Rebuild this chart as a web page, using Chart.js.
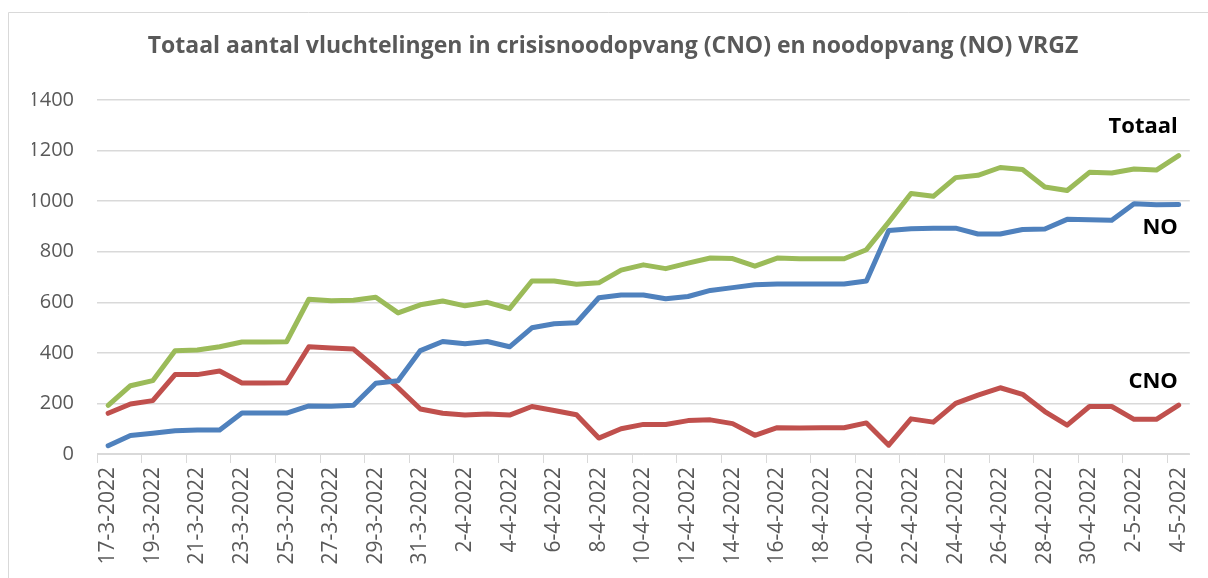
<!DOCTYPE html>
<html>
<head>
<meta charset="utf-8">
<script src="https://cdn.jsdelivr.net/npm/chart.js@4/dist/chart.umd.min.js"></script>
<style>
  html, body { margin: 0; padding: 0; background: #fff; }
  #wrap { width: 1208px; height: 578px; }
</style>
</head>
<body>
<div id="wrap"><canvas id="chart" width="1208" height="578"></canvas></div>
<script>
const dates = [
    '17-3-2022', '18-3-2022', '19-3-2022', '20-3-2022', '21-3-2022', '22-3-2022', '23-3-2022',
    '24-3-2022', '25-3-2022', '26-3-2022', '27-3-2022', '28-3-2022', '29-3-2022', '30-3-2022',
    '31-3-2022', '1-4-2022', '2-4-2022', '3-4-2022', '4-4-2022', '5-4-2022', '6-4-2022',
    '7-4-2022', '8-4-2022', '9-4-2022', '10-4-2022', '11-4-2022', '12-4-2022', '13-4-2022',
    '14-4-2022', '15-4-2022', '16-4-2022', '17-4-2022', '18-4-2022', '19-4-2022', '20-4-2022',
    '21-4-2022', '22-4-2022', '23-4-2022', '24-4-2022', '25-4-2022', '26-4-2022', '27-4-2022',
    '28-4-2022', '29-4-2022', '30-4-2022', '1-5-2022', '2-5-2022', '3-5-2022', '4-5-2022'
];

const noValues = [
    33, 73, 82, 92, 95, 95, 162, 162, 162, 190, 189, 193, 280, 290,
    409, 445, 436, 445, 424, 499, 515, 519, 618, 629, 629, 614, 623, 647,
    658, 669, 672, 672, 672, 672, 684, 884, 891, 893, 893, 870, 870, 888,
    890, 928, 926, 924, 990, 986, 987
];

const cnoValues = [
    161, 198, 211, 314, 314, 328, 281, 281, 282, 424, 419, 415, 340, 262,
    178, 161, 154, 158, 154, 188, 172, 155, 63, 100, 117, 117, 132, 135,
    120, 74, 104, 103, 104, 104, 123, 35, 139, 126, 200, 233, 262, 236,
    168, 114, 188, 188, 137, 137, 193
];

const totaalValues = [
    192, 270, 290, 408, 411, 424, 443, 443, 444, 612, 606, 608, 620, 558,
    590, 605, 586, 600, 575, 684, 684, 671, 677, 727, 748, 733, 755, 775,
    773, 743, 775, 772, 772, 772, 808, 917, 1030, 1019, 1093, 1102, 1133, 1125,
    1056, 1042, 1114, 1111, 1127, 1123, 1180
];

const yTicks = [0, 200, 400, 600, 800, 1000, 1200, 1400];

const titleText = 'Totaal aantal vluchtelingen in crisisnoodopvang (CNO) en noodopvang (NO) VRGZ';

// series names written at the right end, with the y value they sit at
const endLabels = [
    { text: 'Totaal', value: 1293 },
    { text: 'NO', value: 893 },
    { text: 'CNO', value: 287 }
];

const gridColor = '#d9d9d9';
const textColor = '#595959';
const fontFamily = "'Open Sans', 'Liberation Sans', sans-serif";

// light frame round the whole chart, like the Excel chart border
const framePlugin = {
    id: 'frame',
    beforeDraw(chart) {
        const ctx = chart.ctx;
        ctx.save();
        ctx.strokeStyle = gridColor;
        ctx.lineWidth = 1;
        ctx.beginPath();
        ctx.moveTo(8.5, chart.height);
        ctx.lineTo(8.5, 12.5);
        ctx.lineTo(chart.width, 12.5);
        ctx.stroke();
        ctx.restore();
    }
};

const endLabelPlugin = {
    id: 'endLabels',
    afterDatasetsDraw(chart) {
        const ctx = chart.ctx;
        const y = chart.scales.y;
        ctx.save();
        ctx.font = `bold 22px ${fontFamily}`;
        ctx.fillStyle = '#000';
        ctx.textAlign = 'right';
        ctx.textBaseline = 'middle';
        endLabels.forEach(l => {
            ctx.fillText(l.text, chart.chartArea.right - 12, y.getPixelForValue(l.value));
        });
        ctx.restore();
    }
};

const lineStyle = {
    borderWidth: 5,
    pointRadius: 0,
    borderJoinStyle: 'round',
    borderCapStyle: 'round',
    tension: 0
};

new Chart(document.getElementById('chart'), {
    type: 'line',
    data: {
        labels: dates,
        datasets: [
            { label: 'NO', data: noValues, borderColor: '#4f81bd', ...lineStyle },
            { label: 'CNO', data: cnoValues, borderColor: '#c0504d', ...lineStyle },
            { label: 'Totaal', data: totaalValues, borderColor: '#9bbb59', ...lineStyle }
        ]
    },
    options: {
        responsive: false,
        animation: false,
        // left padding shifts the centred title to where it sits in the original
        layout: { padding: { left: 32, top: 0, right: 14, bottom: 0 } },
        plugins: {
            legend: { display: false },
            tooltip: { enabled: false },
            title: {
                display: true,
                text: titleText,
                color: textColor,
                font: { family: fontFamily, size: 23, weight: 'bold' },
                padding: { top: 33, bottom: 39.4 }
            }
        },
        scales: {
            x: {
                offset: true,
                grid: {
                    offset: true,
                    drawOnChartArea: false,
                    tickLength: 9,
                    color: c => (c.index !== undefined && c.index % 2 === 0) ? gridColor : 'transparent'
                },
                border: { color: gridColor, width: 1 },
                ticks: {
                    autoSkip: false,
                    minRotation: 90,
                    maxRotation: 90,
                    color: textColor,
                    padding: 4,
                    font: { family: fontFamily, size: 21 },
                    callback: (v, i) => i % 2 === 0 ? dates[i] : ''
                },
                afterFit: s => { s.height = 124; }
            },
            y: {
                min: 0,
                max: 1400,
                afterBuildTicks: s => { s.ticks = yTicks.map(v => ({ value: v })); },
                grid: { color: gridColor, lineWidth: 1.5, drawTicks: false },
                border: { display: false },
                ticks: {
                    color: textColor,
                    padding: 23,
                    font: { family: fontFamily, size: 20 },
                    callback: v => String(v)
                },
                afterFit: s => { s.width = 65; }
            }
        }
    },
    plugins: [framePlugin, endLabelPlugin]
});
</script>
</body>
</html>
